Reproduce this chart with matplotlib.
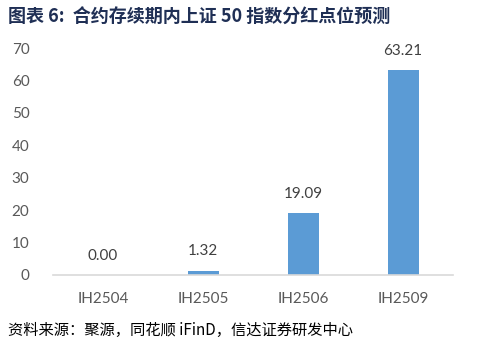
import numpy as np
import matplotlib.pyplot as plt

# data
contracts = ['IH2504', 'IH2505', 'IH2506', 'IH2509']
points = [0.00, 1.32, 19.09, 63.21]
y_ticks = [0, 10, 20, 30, 40, 50, 60, 70]

title = '图表 6:  合约存续期内上证 50 指数分红点位预测'
source = '资料来源：聚源，同花顺 iFinD，信达证券研发中心'

plt.rcParams['font.family'] = ['Lato', 'Noto Sans CJK SC', 'DejaVu Sans']

fig = plt.figure(figsize=(4.81, 3.47), dpi=100)
ax = fig.add_axes([53/481, 1 - 275/347, 400/481, 227/347])

x = np.arange(len(contracts))
bars = ax.bar(x, points, width=0.31, color='#5B9BD5', zorder=2)

for rect, v in zip(bars, points):
    ax.annotate('%.2f' % v, (rect.get_x() + rect.get_width() / 2, rect.get_height()),
                xytext=(0, 9), textcoords='offset points',
                ha='center', va='bottom', fontsize=11, color='#404040')

ax.set_xlim(-0.5, len(contracts) - 0.5)
ax.set_ylim(0, 70)
ax.set_yticks(y_ticks)
ax.set_xticks(x)
ax.set_xticklabels(contracts)
ax.tick_params(axis='both', length=0, labelsize=11, labelcolor='#595959')
ax.tick_params(axis='y', pad=17)
ax.tick_params(axis='x', pad=12)

for s in ('top', 'right', 'left'):
    ax.spines[s].set_visible(False)
ax.spines['bottom'].set_color('#D9D9D9')
ax.spines['bottom'].set_linewidth(1.2)

fig.text(8/481, 1 - 17/347, title, ha='left', va='center', fontsize=13,
         fontweight='bold', color='#1F2F55', family=['Noto Sans CJK SC', 'DejaVu Sans'])
fig.text(8/481, 1 - 330/347, source, ha='left', va='center', fontsize=11,
         color='#000000', family=['Noto Sans CJK SC', 'DejaVu Sans'])

fig.savefig('out.png', dpi=100)
